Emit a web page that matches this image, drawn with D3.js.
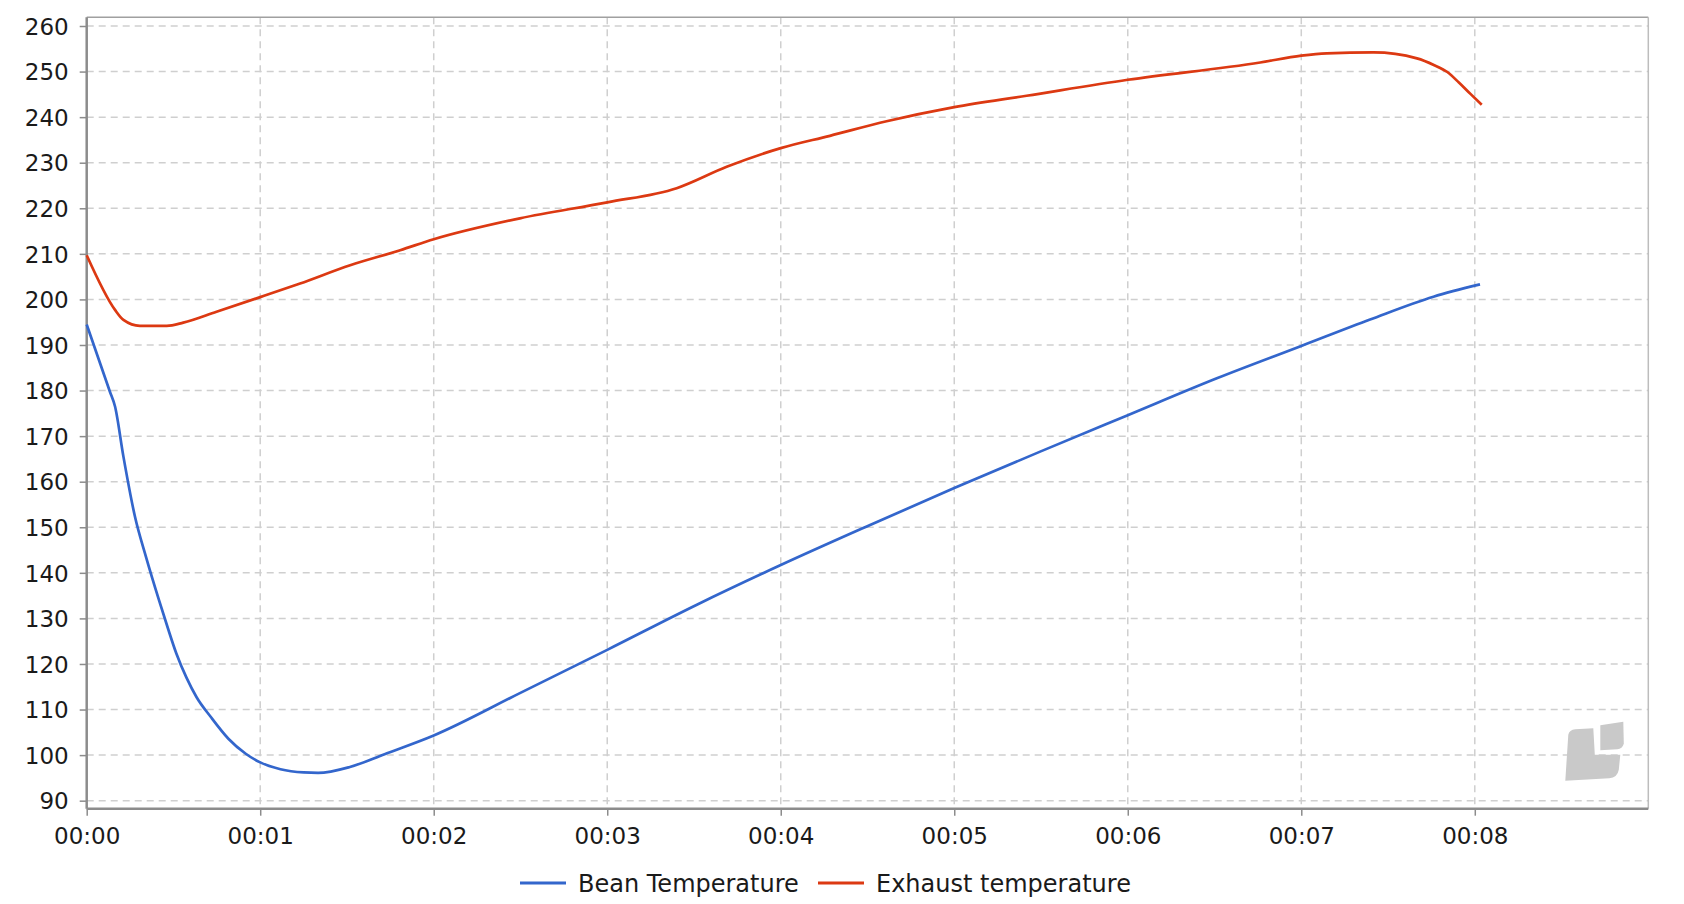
<!DOCTYPE html>
<html>
<head>
<meta charset="utf-8">
<script src="https://cdn.jsdelivr.net/npm/d3@7"></script>
<style>
  html, body { margin: 0; padding: 0; background: #fff; }
  svg { display: block; }
  text { font-family: "DejaVu Sans", sans-serif; fill: #1a1a1a; }
</style>
</head>
<body>
<svg id="chart" width="1684" height="904"></svg>
<script>
// ---- data (time in seconds, temperature in °C) ----
const beanTime = [0, 8, 9.8, 12.7, 16.7, 20.5, 25, 28, 31, 34.5, 38, 43, 49, 55, 60, 67, 75, 80, 91, 103, 120, 149.8, 180, 211, 240, 270.9, 300, 329.7, 360, 390.8, 420, 443.8, 465.7, 481.8];
const beanTemp = [194.5, 179.8, 176.5, 165.5, 152.3, 143.5, 134, 128, 122.3, 117, 112.7, 108.3, 103.6, 100.3, 98.4, 96.9, 96.2, 96.1, 97.4, 100.2, 104.3, 113.6, 123.1, 133.0, 141.7, 150.5, 158.6, 166.6, 174.6, 182.7, 189.8, 195.6, 200.6, 203.3];

const exhaustTime = [0, 9.8, 12.7, 18.4, 27.7, 33.4, 44.9, 60, 73.8, 91.1, 108.4, 120, 149.8, 180, 204, 221.3, 240, 257, 276.6, 300, 325, 360, 405.8, 420, 428.8, 445, 460, 466, 470.5, 474.5, 478.5, 482.4];
const exhaustTemp = [209.7, 197.7, 195.5, 194.2, 194.2, 194.9, 197.3, 200.5, 203.5, 207.5, 210.8, 213.2, 217.8, 221.3, 224.4, 229.1, 233.2, 235.9, 239.1, 242.2, 244.7, 248.2, 252.0, 253.5, 254.0, 254.2, 252.9, 251.4, 249.9, 247.6, 245.1, 242.7];

const seriesNames = ["Bean Temperature", "Exhaust temperature"];
const seriesColors = ["#3366cc", "#dc3912"];

const xTickValues = [0, 60, 120, 180, 240, 300, 360, 420, 480];
const xTickLabels = ["00:00", "00:01", "00:02", "00:03", "00:04", "00:05", "00:06", "00:07", "00:08"];
const yTickValues = [90, 100, 110, 120, 130, 140, 150, 160, 170, 180, 190, 200, 210, 220, 230, 240, 250, 260];

// ---- layout ----
const W = 1684, H = 904;
const margin = { left: 86.7, top: 17.3, right: 35.7, bottom: 95.3 };
const iw = W - margin.left - margin.right;
const ih = H - margin.top - margin.bottom;

const svg = d3.select("#chart");
const g = svg.append("g").attr("transform", `translate(${margin.left},${margin.top})`);

const x = d3.scaleLinear().domain([0, 540]).range([0, iw]);
const y = d3.scaleLinear().domain([88.24, 261.91]).range([ih, 0]);

// grid
const grid = g.append("g").attr("class", "grid");
grid.selectAll("line.h").data(yTickValues).join("line")
  .attr("x1", 0).attr("x2", iw)
  .attr("y1", d => y(d)).attr("y2", d => y(d))
  .attr("stroke", "#cfcfcf").attr("stroke-width", 1.5).attr("stroke-dasharray", "7,5");
grid.selectAll("line.v").data(xTickValues.slice(1)).join("line")
  .attr("x1", d => x(d)).attr("x2", d => x(d))
  .attr("y1", 0).attr("y2", ih)
  .attr("stroke", "#cfcfcf").attr("stroke-width", 1.5).attr("stroke-dasharray", "7,5");

// frame (top, right)
g.append("line").attr("x1", 0).attr("x2", iw).attr("y1", 0).attr("y2", 0)
  .attr("stroke", "#a0a0a0").attr("stroke-width", 1.5);
g.append("line").attr("x1", iw).attr("x2", iw).attr("y1", 0).attr("y2", ih)
  .attr("stroke", "#bdbdbd").attr("stroke-width", 1.5);

// watermark logo (bottom-right corner of plot)
const wm = g.append("g").attr("transform", `translate(${iw - 83},${ih - 84})`).attr("fill", "#c9c9c9");
wm.append("path").attr("d", "M3,10 Q4,5 10,4.5 L28,3.5 L29.5,30 L55,30 L53.5,45 Q52,53 44,53.5 L0,56 Z");
wm.append("path").attr("d", "M35,0.5 L58,-3 L58.5,19 Q57,24 52,24.5 L35,25.5 Z");

// axes
const yAxis = d3.axisLeft(y).tickValues(yTickValues).tickSize(7).tickPadding(11).tickFormat(d3.format("d"));
const yg = g.append("g").call(yAxis);
yg.select(".domain").attr("stroke", "#8c8c8c").attr("stroke-width", 2.5).attr("d", `M0,${ih}V0`);
yg.selectAll(".tick line").attr("stroke", "#8c8c8c").attr("stroke-width", 1.5);
yg.selectAll(".tick text").style("font-size", "23px").attr("fill", "#1a1a1a").attr("font-family", "DejaVu Sans").attr("dy", "0.36em");

const xAxis = d3.axisBottom(x).tickValues(xTickValues).tickSize(7).tickPadding(12)
  .tickFormat((d, i) => xTickLabels[i]);
const xg = g.append("g").attr("transform", `translate(0,${ih})`).call(xAxis);
xg.select(".domain").attr("stroke", "#8c8c8c").attr("stroke-width", 2.5).attr("d", `M0,0H${iw}`);
xg.selectAll(".tick line").attr("stroke", "#8c8c8c").attr("stroke-width", 1.5);
xg.selectAll(".tick text").style("font-size", "23px").attr("fill", "#1a1a1a").attr("font-family", "DejaVu Sans");

// lines
const line = d3.line().x(d => x(d[0])).y(d => y(d[1])).curve(d3.curveMonotoneX);
const beanPts = beanTime.map((t, i) => [t, beanTemp[i]]);
const exhaustPts = exhaustTime.map((t, i) => [t, exhaustTemp[i]]);

g.append("path").datum(beanPts).attr("d", line)
  .attr("fill", "none").attr("stroke", seriesColors[0]).attr("stroke-width", 2.7).attr("stroke-linejoin", "round");
g.append("path").datum(exhaustPts).attr("d", line)
  .attr("fill", "none").attr("stroke", seriesColors[1]).attr("stroke-width", 2.7).attr("stroke-linejoin", "round");

// legend
const legend = svg.append("g").attr("transform", "translate(0,883)");
const legendX = [520, 818];
seriesNames.forEach((name, i) => {
  const lg = legend.append("g").attr("transform", `translate(${legendX[i]},0)`);
  lg.append("line").attr("x1", 0).attr("x2", 46).attr("y1", 0).attr("y2", 0)
    .attr("stroke", seriesColors[i]).attr("stroke-width", 3);
  lg.append("text").attr("x", 58).attr("y", 0).attr("dy", "0.36em")
    .style("font-size", "24px").text(name);
});
</script>
</body>
</html>
